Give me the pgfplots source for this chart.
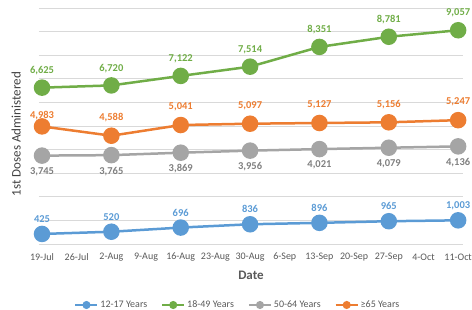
\documentclass[border=0pt]{standalone}
\usepackage{fontspec}
\setmainfont{Carlito}
\usepackage{pgfplots}
\pgfplotsset{compat=1.18}
\definecolor{cblue}{HTML}{5B9BD5}
\definecolor{cgreen}{HTML}{70AD47}
\definecolor{cgray}{HTML}{A5A5A5}
\definecolor{corange}{HTML}{ED7D31}
\definecolor{cgraylab}{HTML}{7F7F7F}
\definecolor{ctext}{HTML}{595959}
\definecolor{cylab}{HTML}{404040}
\definecolor{cgrid}{HTML}{D9D9D9}
\begin{document}
\begin{tikzpicture}
\begin{axis}[
  at={(0pt,0pt)}, anchor=south west,
  scale only axis, width=424pt, height=236pt,
  xmin=-0.087, xmax=12.14, ymin=0, ymax=10000,
  xtick={0,1,...,12},
  xticklabels={19-Jul,26-Jul,2-Aug,9-Aug,16-Aug,23-Aug,30-Aug,6-Sep,13-Sep,20-Sep,27-Sep,4-Oct,11-Oct},
  ytick={0,1000,...,10000}, yticklabels={}, scaled y ticks=false,
  yticklabel style={inner sep=0pt, font=\fontsize{1}{1}\selectfont},
  ymajorgrids, grid style={cgrid, line width=0.75pt},
  axis line style={draw=none}, tick style={draw=none},
  xticklabel style={font=\fontsize{10}{12}\selectfont, text=ctext, anchor=center, yshift=-13pt},
  xlabel={Date},
  xlabel style={font=\fontsize{13}{15}\selectfont\bfseries, text=ctext, at={(axis description cs:0.5,0)}, anchor=center, yshift=-31pt},
  ylabel={1st Doses Administered},
  ylabel style={font=\fontsize{13}{15}\selectfont, text=cylab, at={(axis description cs:-0.054,0.466)}, anchor=center},
  legend columns=4,
  legend style={draw=none, fill=none, at={(axis description cs:0.469,0)}, anchor=center, yshift=-61pt,
    font=\fontsize{10}{12}\selectfont, text=ctext,
    /tikz/every even column/.append style={column sep=12pt}},
  legend image code/.code={\draw[#1, mark repeat=2, mark phase=2, mark size=3pt, line width=2pt] plot coordinates {(0pt,0pt) (11pt,0pt) (22pt,0pt)};},
  every axis plot/.append style={line width=2.5pt, mark=*, mark size=7pt},
  nodes near coords={\pgfmathprintnumber[fixed,precision=0,1000 sep={,},assume math mode=true]{\pgfplotspointmeta}},
  every node near coord/.append style={font=\fontsize{10.5}{12}\selectfont\bfseries, anchor=center},
]
\addplot[color=cblue, every node near coord/.append style={text=cblue, yshift=15pt}] coordinates {
(0,425) (2,520) (4,696) (6,836) (8,896) (10,965) (12,1003)};
\addlegendentry{12-17 Years}
\addplot[color=cgreen, every node near coord/.append style={text=cgreen, yshift=17pt}] coordinates {
(0,6625) (2,6720) (4,7122) (6,7514) (8,8351) (10,8781) (12,9057)};
\addlegendentry{18-49 Years}
\addplot[color=cgray, every node near coord/.append style={text=cgraylab, yshift=-16pt}] coordinates {
(0,3745) (2,3765) (4,3869) (6,3956) (8,4021) (10,4079) (12,4136)};
\addlegendentry{50-64 Years}
\addplot[color=corange, every node near coord/.append style={text=corange, yshift=18pt},
  coordinate style/.condition={x==0}{yshift=-7pt}] coordinates {
(0,4983) (2,4588) (4,5041) (6,5097) (8,5127) (10,5156) (12,5247)};
\addlegendentry{≥65 Years}
\end{axis}
\pgfresetboundingbox
\path (-39pt,-66pt) rectangle (433pt,244pt);
\end{tikzpicture}
\end{document}
